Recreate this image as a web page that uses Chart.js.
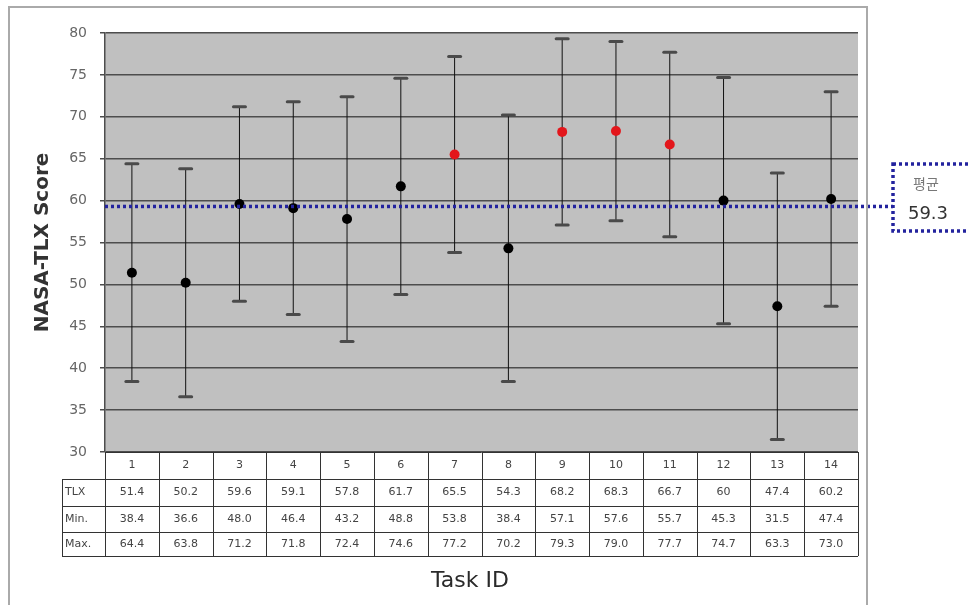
<!DOCTYPE html>
<html>
<head>
<meta charset="utf-8">
<script src="https://cdn.jsdelivr.net/npm/chart.js@4.4.1/dist/chart.umd.min.js"></script>
<style>
html, body { margin: 0; padding: 0; background: #fff; }
#wrap { width: 968px; height: 605px; position: relative; }
</style>
</head>
<body>
<div id="wrap"><canvas id="chart_canvas" width="968" height="605"></canvas></div>
<script>
const taskIds = ['1', '2', '3', '4', '5', '6', '7', '8', '9', '10', '11', '12', '13', '14'];
const tlxScores = [51.4, 50.2, 59.6, 59.1, 57.8, 61.7, 65.5, 54.3, 68.2, 68.3, 66.7, 60, 47.4, 60.2];
const minScores = [38.4, 36.6, 48.0, 46.4, 43.2, 48.8, 53.8, 38.4, 57.1, 57.6, 55.7, 45.3, 31.5, 47.4];
const maxScores = [64.4, 63.8, 71.2, 71.8, 72.4, 74.6, 77.2, 70.2, 79.3, 79.0, 77.7, 74.7, 63.3, 73.0];
const highlightTasks = ['7', '9', '10', '11'];
const meanScore = 59.3;
const meanLabel = '평균';
const rowLabels = ['TLX', 'Min.', 'Max.'];
const yMin = 30, yMax = 80, yStep = 5;

const ctx = document.getElementById('chart_canvas');

// table text: one decimal, except a whole TLX value ("60")
function fmt(v, row) {
    if (row === 0 && Number.isInteger(v)) return String(v);
    return v.toFixed(1);
}

const extras = {
    id: 'extras',
    beforeDraw(chart) {
        const c = chart.ctx, a = chart.chartArea;
        c.save();
        c.fillStyle = '#c0c0c0';
        c.fillRect(a.left, a.top, a.right - a.left, a.bottom - a.top);
        c.restore();
    },
    beforeDatasetsDraw(chart) {
        const c = chart.ctx;
        const x = chart.scales.x, y = chart.scales.y;
        c.save();
        for (let i = 0; i < taskIds.length; i++) {
            const px = x.getPixelForValue(i);
            const top = y.getPixelForValue(maxScores[i]);
            const bot = y.getPixelForValue(minScores[i]);
            c.strokeStyle = '#111';
            c.lineWidth = 1;
            c.beginPath();
            c.moveTo(px, top);
            c.lineTo(px, bot);
            c.stroke();
            c.strokeStyle = '#4a4a4a';
            c.lineWidth = 3;
            c.lineCap = 'round';
            [top, bot].forEach(function (py) {
                c.beginPath();
                c.moveTo(px - 6, py);
                c.lineTo(px + 6, py);
                c.stroke();
            });
        }
        c.restore();
    },
    afterDatasetsDraw(chart) {
        const c = chart.ctx, a = chart.chartArea;
        const x = chart.scales.x, y = chart.scales.y;
        const colW = (a.right - a.left) / taskIds.length;

        // mean line + callout
        const my = y.getPixelForValue(meanScore);
        const boxL = 893, boxT = 164, boxB = 231;
        c.save();
        c.strokeStyle = '#23239e';
        c.lineWidth = 3.5;
        c.setLineDash([3, 3]);
        c.beginPath();
        c.moveTo(a.left, my);
        c.lineTo(boxL, my);
        c.stroke();
        c.strokeRect(boxL, boxT, 90, boxB - boxT);
        c.setLineDash([]);
        c.textAlign = 'center';
        c.textBaseline = 'middle';
        c.fillStyle = '#777';
        c.font = '14px "Noto Sans CJK KR"';
        c.fillText(meanLabel, 926, 184);
        c.fillStyle = '#333';
        c.font = '18px "DejaVu Sans"';
        c.fillText(meanScore.toFixed(1), 928, 214);
        c.restore();

        // table under the plot
        const rows = [a.bottom, a.bottom + 27, a.bottom + 54, a.bottom + 80, a.bottom + 104];
        const labL = 62;
        c.save();
        c.fillStyle = '#fff';
        c.fillRect(a.left, rows[0], a.right - a.left, rows[4] - rows[0]);
        c.fillRect(labL, rows[1], a.left - labL, rows[4] - rows[1]);
        c.strokeStyle = '#333';
        c.lineWidth = 1;
        c.beginPath();
        for (let r = 0; r < rows.length; r++) {
            const l = r === 0 ? a.left : labL;
            c.moveTo(l, rows[r] + 0.5);
            c.lineTo(a.right, rows[r] + 0.5);
        }
        c.moveTo(labL + 0.5, rows[1]);
        c.lineTo(labL + 0.5, rows[4]);
        for (let i = 0; i <= taskIds.length; i++) {
            const gx = Math.round(a.left + i * colW) + 0.5;
            c.moveTo(gx, rows[0]);
            c.lineTo(gx, rows[4]);
        }
        c.stroke();

        c.fillStyle = '#444';
        c.font = '11px "DejaVu Sans"';
        c.textBaseline = 'middle';
        c.textAlign = 'left';
        rowLabels.forEach(function (t, r) {
            c.fillText(t, labL + 3, (rows[r + 1] + rows[r + 2]) / 2);
        });
        c.textAlign = 'center';
        const tableRows = [tlxScores, minScores, maxScores];
        for (let i = 0; i < taskIds.length; i++) {
            const px = x.getPixelForValue(i);
            c.fillText(taskIds[i], px, (rows[0] + rows[1]) / 2);
            tableRows.forEach(function (arr, r) {
                c.fillText(fmt(arr[i], r), px, (rows[r + 1] + rows[r + 2]) / 2);
            });
        }

        c.fillStyle = '#2a2a2a';
        c.font = '22px "DejaVu Sans"';
        c.fillText('Task ID', 470, 581);

        // outer frame
        c.strokeStyle = '#aaa';
        c.lineWidth = 2;
        c.strokeRect(9, 7, 858, 610);
        c.restore();
    }
};

new Chart(ctx, {
    type: 'line',
    data: {
        labels: taskIds,
        datasets: [{
            label: 'TLX',
            data: tlxScores,
            showLine: false,
            pointRadius: 5,
            pointHoverRadius: 5,
            pointBorderWidth: 0,
            pointBackgroundColor: taskIds.map(t => highlightTasks.includes(t) ? '#e3161b' : '#000'),
            pointBorderColor: taskIds.map(t => highlightTasks.includes(t) ? '#e3161b' : '#000')
        }]
    },
    options: {
        responsive: false,
        animation: false,
        devicePixelRatio: 1,
        layout: { padding: { left: 20, right: 110, top: 33, bottom: 153 } },
        plugins: { legend: { display: false }, tooltip: { enabled: false } },
        scales: {
            x: { display: false, offset: true },
            y: {
                min: yMin,
                max: yMax,
                afterFit: function (scale) { scale.width = 85; },
                ticks: {
                    stepSize: yStep,
                    padding: 13,
                    color: '#666',
                    font: { family: 'DejaVu Sans', size: 14 }
                },
                grid: { color: '#4d4d4d', lineWidth: 1.5, tickLength: 5 },
                border: { color: '#4d4d4d', width: 1.5 },
                title: {
                    display: true,
                    text: 'NASA-TLX Score',
                    color: '#333',
                    padding: { top: 11, bottom: 0 },
                    font: { family: 'DejaVu Sans', size: 20, weight: 'bold' }
                }
            }
        }
    },
    plugins: [extras]
});
</script>
</body>
</html>
